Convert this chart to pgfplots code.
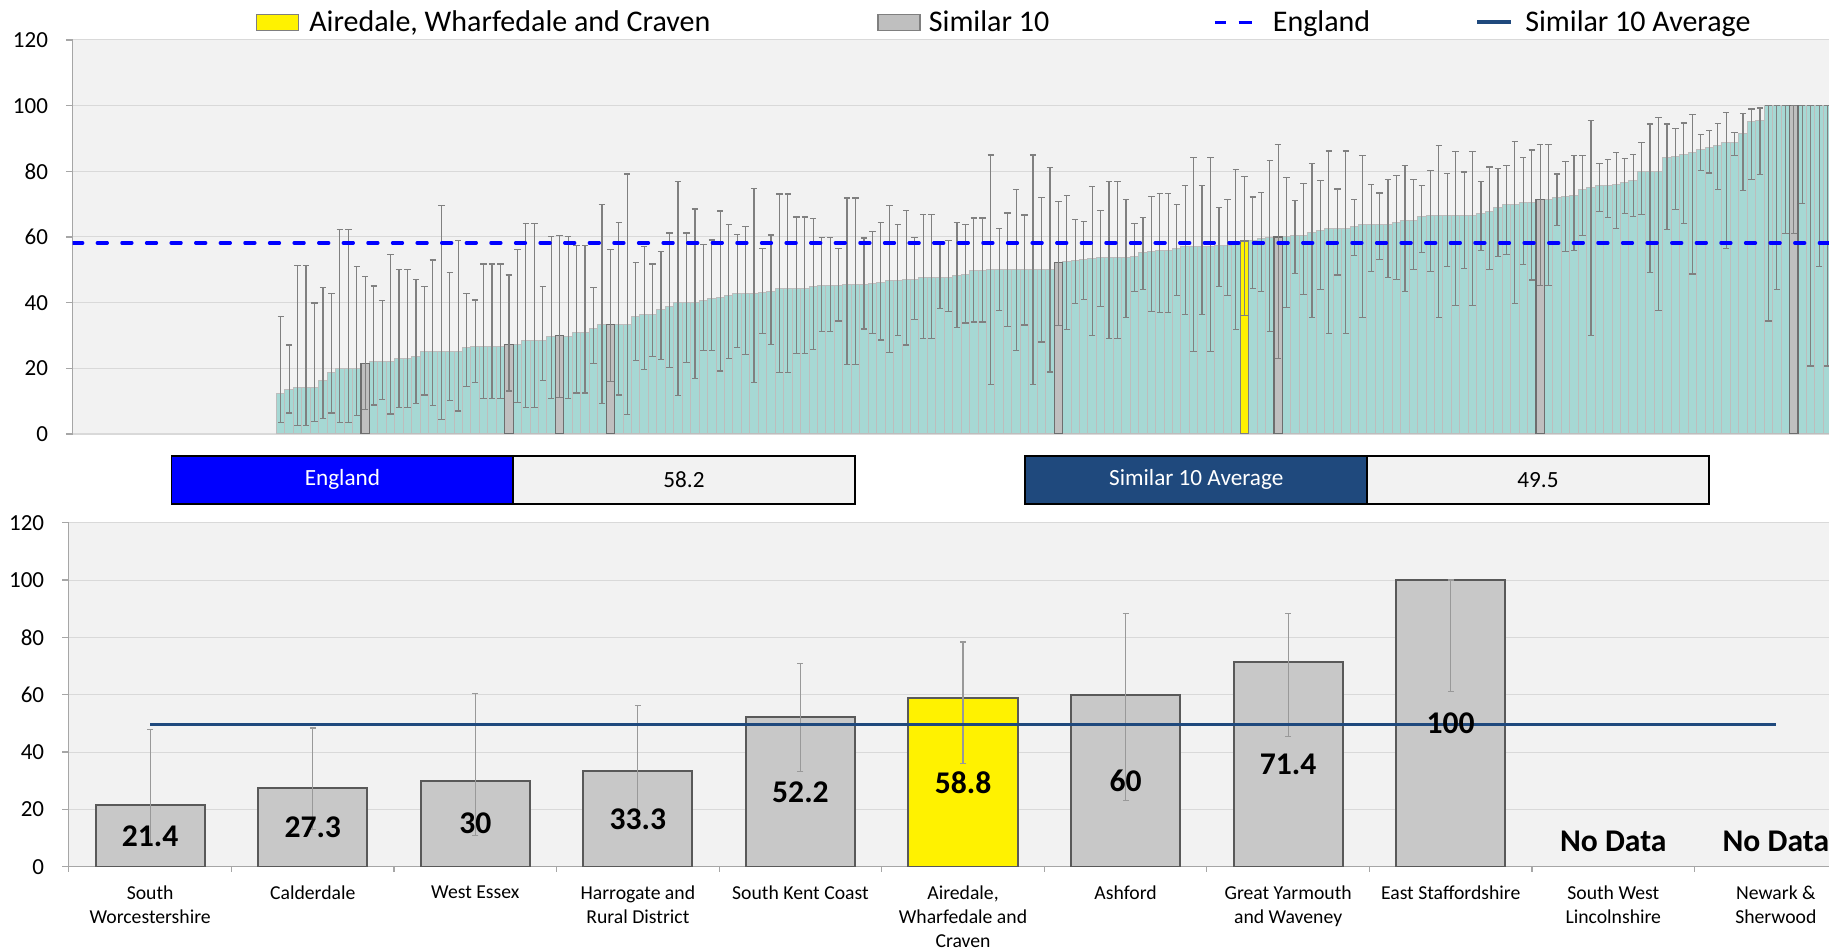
\documentclass[border=0pt]{standalone}
\usepackage{pgfplots}
\usepackage{pgfplotstable}
\usepackage{fontspec}
\setmainfont{Carlito}
\pgfplotsset{compat=1.18}

\definecolor{bggray}{HTML}{F2F2F2}
\definecolor{gridgray}{HTML}{D9D9D9}
\definecolor{axgray}{HTML}{A6A6A6}
\definecolor{tealfill}{HTML}{A6D8D4}
\definecolor{tealdraw}{HTML}{BDBDBD}
\definecolor{simfill}{HTML}{BFBFBF}
\definecolor{simdraw}{HTML}{6E6E6E}
\definecolor{errgray}{HTML}{808080}
\definecolor{errlight}{HTML}{999999}
\definecolor{engblue}{HTML}{0000FF}
\definecolor{avgblue}{HTML}{1F497D}
\definecolor{bargray}{HTML}{C8C8C8}
\definecolor{bardraw}{HTML}{595959}
\definecolor{ydraw}{HTML}{7F7F7F}

\newcommand{\tickfont}{\fontsize{11.5pt}{13pt}\selectfont}
\newcommand{\legfont}{\fontsize{15pt}{17pt}\selectfont}
\newcommand{\xlabfont}{\fontsize{9.85pt}{12pt}\selectfont}
\newcommand{\boxfont}{\fontsize{11.6pt}{13pt}\selectfont}
\newcommand{\datfont}{\fontsize{15.8pt}{18pt}\selectfont\bfseries}

\pgfplotstableread{
k y lo hi
1 12.4 3.4 35.8
2 13.7 6.4 27.1
3 14.2 2.5 51.3
4 14.2 2.5 51.3
5 14.2 3.9 39.9
6 16.4 4.6 44.7
7 18.6 6.4 42.8
8 19.8 3.4 62.4
9 19.8 3.4 62.4
10 19.8 5.6 50.9
11 21.4 7.4 48.0
12 22.0 8.8 45.1
13 22.0 10.5 40.6
14 22.0 6.1 54.6
15 23.0 8.0 50.2
16 23.0 8.0 50.2
17 23.5 9.4 47.1
18 25.0 11.9 44.8
19 25.0 8.7 53.0
20 25.0 4.4 69.6
21 25.0 10.1 49.3
22 25.0 7.0 58.9
23 26.4 14.5 42.8
24 26.5 15.8 40.8
25 26.5 10.8 51.8
26 26.5 10.8 51.8
27 26.5 10.8 51.8
28 27.3 13.1 48.4
29 27.3 9.5 56.3
30 28.4 8.0 64.0
31 28.4 8.0 64.0
32 28.4 16.2 44.9
33 29.8 10.7 60.2
34 30.0 11.0 60.4
35 29.8 10.7 60.2
36 30.8 12.5 57.4
37 30.8 12.5 57.4
38 32.0 21.5 44.7
39 33.2 9.4 69.8
40 33.3 16.1 56.3
41 33.2 11.9 64.4
42 33.2 6.0 79.2
43 35.9 22.4 52.3
44 36.3 19.6 57.0
45 36.5 23.5 51.8
46 37.9 22.6 55.7
47 38.8 20.2 61.2
48 40.0 11.7 76.8
49 40.0 21.8 61.2
50 40.0 16.8 68.5
51 40.6 25.5 57.6
52 41.2 25.5 59.1
53 41.5 19.2 67.9
54 42.1 23.0 63.7
55 42.8 26.4 60.8
56 42.8 24.3 63.2
57 42.8 15.6 74.8
58 43.0 30.5 56.6
59 43.4 27.3 60.6
60 44.3 18.8 73.1
61 44.3 18.8 73.1
62 44.3 24.4 66.1
63 44.3 24.4 66.1
64 44.9 25.8 65.7
65 45.2 31.1 59.9
66 45.2 31.1 59.9
67 45.2 34.4 56.5
68 45.5 21.1 71.9
69 45.5 21.1 71.9
70 45.5 32.0 59.7
71 45.8 30.5 61.6
72 46.1 28.6 64.4
73 46.6 24.7 69.7
74 46.6 30.0 63.7
75 47.2 27.1 68.1
76 47.2 34.9 59.9
77 47.8 29.0 66.9
78 47.8 29.0 66.9
79 47.8 38.1 57.9
80 47.8 37.2 59.0
81 48.4 32.4 64.5
82 48.7 33.8 63.7
83 49.9 34.1 65.8
84 49.9 34.1 65.8
85 50.0 15.0 85.0
86 50.0 37.6 62.5
87 50.0 32.8 67.3
88 50.0 25.5 74.5
89 50.0 33.2 66.7
90 50.0 15.0 85.0
91 50.0 28.0 72.0
92 50.0 18.9 81.1
93 52.2 33.0 70.8
94 52.4 31.8 72.6
95 52.7 39.8 65.3
96 53.1 41.0 64.8
97 53.4 30.1 75.3
98 53.7 38.8 68.0
99 53.8 29.1 76.9
100 53.8 29.1 76.9
101 53.8 35.4 71.3
102 54.0 43.5 64.1
103 55.2 44.0 65.9
104 55.6 37.3 72.4
105 55.9 37.0 73.2
106 55.9 37.0 73.2
107 56.5 42.2 69.8
108 57.2 36.5 75.6
109 57.2 25.1 84.1
110 57.2 36.5 75.6
111 57.2 25.1 84.1
112 57.4 44.9 69.0
113 57.4 42.2 71.4
114 58.2 31.9 80.5
115 58.8 36.0 78.4
116 59.0 44.4 72.2
117 59.5 43.4 73.5
118 59.9 31.3 83.2
119 60.0 23.1 88.2
120 60.2 38.6 78.0
121 60.5 48.9 71.1
122 60.6 42.4 76.4
123 61.3 35.4 82.4
124 62.1 43.9 77.3
125 62.6 30.6 86.2
126 62.6 48.4 74.6
127 62.6 30.6 86.2
128 63.3 54.3 71.4
129 63.7 35.4 84.7
130 63.8 49.5 76.0
131 63.8 53.1 73.4
132 63.8 47.7 77.5
133 64.5 47.1 78.8
134 64.9 43.3 81.8
135 65.1 50.2 77.6
136 66.2 55.3 75.6
137 66.6 49.6 80.2
138 66.6 35.4 87.9
139 66.6 51.0 79.3
140 66.6 39.1 86.1
141 66.6 50.3 79.8
142 66.6 39.1 86.1
143 67.1 55.8 76.8
144 67.7 50.1 81.3
145 69.1 54.1 80.8
146 69.9 54.7 81.8
147 69.9 39.8 89.1
148 70.4 51.5 84.1
149 70.5 46.9 86.5
150 71.4 45.3 88.2
151 71.4 45.3 88.2
152 72.0 63.4 79.2
153 72.3 55.7 83.1
154 72.6 55.8 84.9
155 74.5 60.4 84.7
156 75.1 30.0 95.4
157 75.6 67.8 82.3
158 75.8 65.9 83.6
159 76.0 62.6 85.7
160 76.6 67.2 83.9
161 77.1 66.2 85.1
162 80.0 66.9 88.7
163 80.0 49.1 94.4
164 80.0 37.6 96.3
165 84.3 62.4 94.4
166 84.4 68.4 93.0
167 85.2 64.0 94.7
168 85.8 48.7 97.4
169 86.7 80.3 91.2
170 87.3 79.5 92.4
171 87.8 74.5 94.6
172 88.9 56.5 97.9
173 88.9 84.9 91.9
174 91.6 74.2 97.6
175 95.2 77.4 99.0
176 95.6 79.0 99.3
177 100 34.4 100
178 100 43.9 100
179 100 61.0 100
180 100 61.0 100
181 100 70.1 100
182 100 20.7 100
183 100 51.1 100
184 100 20.7 100
}\topdata

\pgfplotstableread{
k y lo hi
11 21.4 7.4 48.0
28 27.3 13.1 48.4
34 30.0 11.0 60.4
40 33.3 16.1 56.3
93 52.2 33.0 70.8
119 60.0 23.1 88.2
150 71.4 45.3 88.2
180 100 61.0 100
}\simdata

\pgfplotstableread{
k y lo hi
115 58.8 36.0 78.4
}\ownTop

\pgfplotstableread{
x y lo hi
0 21.4 7.4 48.0
1 27.3 13.1 48.4
2 30 11.0 60.4
3 33.3 16.1 56.3
4 52.2 33.1 70.8
5 58.8 36.1 78.4
6 60 23.2 88.2
7 71.4 45.4 88.2
8 100 61.1 100
}\botdata

\pgfplotstableread{
x y lo hi
5 58.8 36.1 78.4
}\ownBot

\pgfplotsset{
  toperr/.style={error bars/.cd, y dir=both, y explicit, error mark=-,
    error bar style={draw=errgray, line width=0.6pt},
    error mark options={rotate=90, draw=errgray, line width=0.6pt, mark size=1.6pt}, /pgfplots/.cd},
  boterr/.style={error bars/.cd, y dir=both, y explicit, error mark=-,
    error bar style={draw=errlight, line width=0.55pt},
    error mark options={rotate=90, draw=errlight, line width=0.55pt, mark size=1.5pt}, /pgfplots/.cd},
}

\begin{document}
\begin{tikzpicture}
\useasboundingbox (0,0) rectangle (914.5pt,473.5pt);

% ---------------- top chart ----------------
\begin{axis}[
  at={(36.35pt,256.5pt)}, anchor=south west,
  scale only axis, width=878.15pt, height=197pt,
  xmin=-23.61, xmax=184.17, ymin=0, ymax=120,
  ytick={0,20,...,120}, xtick=\empty,
  ymajorgrids, grid style={draw=gridgray, line width=0.5pt},
  axis background/.style={fill=bggray},
  axis x line*=bottom, axis y line*=left,
  x axis line style={draw=gridgray, line width=0.6pt},
  y axis line style={draw=axgray, line width=0.6pt},
  tick align=outside, major tick length=3.35pt,
  ytick style={draw=axgray, line width=0.6pt},
  yticklabel style={font=\tickfont, xshift=-5.5pt},
  /pgf/number format/assume math mode=true,
  legend columns=4,
  legend cell align=left,
  legend style={at={(axis description cs:0.10406,1.0445)}, anchor=west,
    draw=none, fill=none, inner sep=0pt, column sep=0pt, row sep=0pt,
    font=\legfont, nodes={inner sep=0pt}},
]
\addplot[ybar, bar width=1, bar shift=0pt, fill=tealfill, draw=tealdraw,
  line width=0.5pt, forget plot, toperr]
  table[x=k, y=y, y error plus expr=\thisrow{hi}-\thisrow{y},
        y error minus expr=\thisrow{y}-\thisrow{lo}] \topdata;

\addplot[ybar, bar width=1, bar shift=0pt, fill=yellow, draw=ydraw, line width=0.6pt,
  legend image code/.code={\draw[fill=yellow, draw=ydraw, line width=0.6pt] (0pt,-4.15pt) rectangle (21pt,4.15pt);}, toperr]
  table[x=k, y=y, y error plus expr=\thisrow{hi}-\thisrow{y},
        y error minus expr=\thisrow{y}-\thisrow{lo}] \ownTop;
\addlegendentry{\makebox[289.2pt][l]{\hspace*{5.1pt}Airedale, Wharfedale and Craven}}

\addplot[ybar, bar width=1, bar shift=0pt, fill=simfill, draw=simdraw, line width=0.6pt,
  legend image code/.code={\draw[fill=simfill, draw=ydraw, line width=0.6pt] (0pt,-4.15pt) rectangle (21pt,4.15pt);}, toperr]
  table[x=k, y=y, y error plus expr=\thisrow{hi}-\thisrow{y},
        y error minus expr=\thisrow{y}-\thisrow{lo}] \simdata;
\addlegendentry{\makebox[146.4pt][l]{\hspace*{4.1pt}Similar 10}}

\addplot[engblue, line width=1.65pt, dash pattern=on 5pt off 7.3pt, line cap=round,
  legend image code/.code={\draw[engblue, line width=1.5pt, line cap=butt, solid] (0pt,0pt) -- (5.35pt,0pt) (11.85pt,0pt) -- (18.7pt,0pt);}]
  coordinates {(-23.61,58.2) (184.17,58.2)};
\addlegendentry{\makebox[110.7pt][l]{\hspace*{9.5pt}England}}

\addlegendimage{legend image code/.code={\draw[avgblue, line width=2pt] (0pt,0pt) -- (16.65pt,0pt);}}
\addlegendentry{\hspace*{6.35pt}Similar 10 Average}
\end{axis}

% ---------------- summary boxes ----------------
\draw[line width=0.85pt, fill=engblue] (85.75pt,221.5pt) rectangle (256.6pt,245.65pt);
\node[text=white, font=\boxfont] at (171.2pt,233.6pt) {England};
\draw[line width=0.85pt, fill=bggray] (256.6pt,221.5pt) rectangle (427.5pt,245.65pt);
\node[font=\boxfont] at (342pt,233.6pt) {58.2};
\draw[line width=0.85pt, fill=avgblue] (512.65pt,221.5pt) rectangle (683.5pt,245.65pt);
\node[text=white, font=\boxfont] at (598.1pt,233.6pt) {Similar 10 Average};
\draw[line width=0.85pt, fill=bggray] (683.5pt,221.5pt) rectangle (854.5pt,245.65pt);
\node[font=\boxfont] at (769pt,233.6pt) {49.5};

% ---------------- bottom chart ----------------
\begin{axis}[
  at={(34.45pt,40.15pt)}, anchor=south west,
  scale only axis, width=880.05pt, height=172pt,
  xmin=-0.5, xmax=10.327, ymin=0, ymax=120,
  ytick={0,20,...,120},
  xtick={0,...,10},
  xticklabels={{South\\Worcestershire}, Calderdale, West Essex, {Harrogate and\\Rural District}, South Kent Coast, {Airedale,\\Wharfedale and\\Craven}, Ashford, {Great Yarmouth\\and Waveney}, East Staffordshire, {South West\\Lincolnshire}, {Newark \&\\Sherwood}},
  minor xtick={-0.5,0.5,...,9.5},
  major x tick style={draw=none},
  minor tick length=2.5pt,
  ymajorgrids, grid style={draw=gridgray, line width=0.5pt},
  axis background/.style={fill=bggray},
  axis x line*=bottom, axis y line*=left,
  x axis line style={draw=axgray, line width=0.6pt},
  y axis line style={draw=axgray, line width=0.6pt},
  tick align=outside, major tick length=3.35pt,
  ytick style={draw=axgray, line width=0.6pt},
  minor x tick style={draw=axgray, line width=0.6pt},
  yticklabel style={font=\tickfont, xshift=-5.5pt},
  xticklabel style={font=\xlabfont, align=center, anchor=north, yshift=-2.6pt},
  /pgf/number format/assume math mode=true,
]
\addplot[ybar, bar width=0.671, bar shift=0pt, fill=bargray, draw=bardraw, line width=1pt, boterr]
  table[x=x, y=y, y error plus expr=\thisrow{hi}-\thisrow{y},
        y error minus expr=\thisrow{y}-\thisrow{lo}] \botdata;
\addplot[ybar, bar width=0.671, bar shift=0pt, fill=yellow, draw=bardraw, line width=1pt, boterr]
  table[x=x, y=y, y error plus expr=\thisrow{hi}-\thisrow{y},
        y error minus expr=\thisrow{y}-\thisrow{lo}] \ownBot;
\addplot[avgblue, line width=1.35pt] coordinates {(0,49.5) (10,49.5)};
\addplot[draw=none, mark=none, point meta=explicit,
  nodes near coords={\pgfmathprintnumber[assume math mode=true]{\pgfplotspointmeta}},
  every node near coord/.append style={anchor=center, font=\datfont, text=black}]
  table[x=x, y expr=\thisrow{y}/2, meta=y] \botdata;
\addplot[draw=none, mark=none, point meta=explicit symbolic,
  nodes near coords,
  every node near coord/.append style={anchor=center, font=\datfont, text=black}]
  coordinates {(9,8.7) [No Data] (10,8.7) [No Data]};
\end{axis}
\end{tikzpicture}
\end{document}
